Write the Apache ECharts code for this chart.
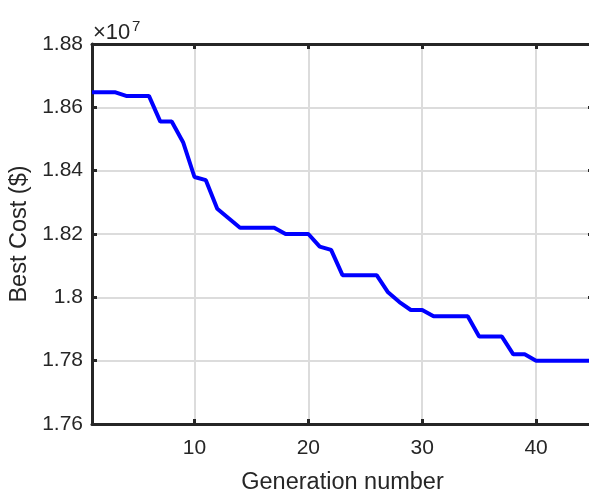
<!DOCTYPE html>
<html>
<head>
<meta charset="utf-8">
<script src="https://cdn.jsdelivr.net/npm/echarts@6/dist/echarts.min.js"></script>
<style>
  html, body { margin: 0; padding: 0; background: #fff; }
  #main { width: 589px; height: 491px; }
</style>
</head>
<body>
<div id="main"></div>
<script>
// generation index
const generations = [];
for (let g = 1; g <= 45; g++) generations.push(g);

// best cost per generation, in units of 1e7 $
const bestCost = [
  1.8648, 1.8648, 1.8648, 1.8636, 1.8636, 1.8636, 1.8555, 1.8555, 1.849, 1.838,
  1.837, 1.828, 1.825, 1.822, 1.822, 1.822, 1.822, 1.820, 1.820, 1.820,
  1.816, 1.815, 1.807, 1.807, 1.807, 1.807, 1.8016, 1.7985, 1.796, 1.796,
  1.794, 1.794, 1.794, 1.794, 1.7876, 1.7876, 1.7876, 1.782, 1.782, 1.780,
  1.780, 1.780, 1.780, 1.780, 1.780
];

const xTicks = [10, 20, 30, 40];

const axisDark = '#262626';
const gridGray = '#dcdcdc';
const font = 'Liberation Sans, Arial, sans-serif';

var myChart = echarts.init(document.querySelector("#main"));

var option = {
  animation: false,
  grid: { left: 92, width: 501, top: 44, height: 380, containLabel: false, outerBoundsMode: 'none' },
  graphic: [{
    type: 'text',
    x: 93, y: 44,
    style: { text: '×10', fontSize: 22, fontFamily: font, fill: axisDark, verticalAlign: 'bottom' }
  }, {
    type: 'text',
    x: 132, y: 19,
    style: { text: '7', fontSize: 15, fontFamily: font, fill: axisDark, verticalAlign: 'top' }
  }],
  xAxis: [{
    type: 'value',
    min: 1, max: 45,
    name: 'Generation number',
    nameLocation: 'middle',
    nameGap: 47,
    nameTextStyle: { fontSize: 23.5, fontFamily: font, color: axisDark },
    axisLine: { lineStyle: { color: axisDark, width: 3 } },
    axisTick: { inside: true, length: 5, customValues: xTicks, lineStyle: { color: axisDark, width: 3 } },
    axisLabel: { customValues: xTicks, fontSize: 21, fontFamily: font, color: axisDark, margin: 14 },
    splitLine: { show: true, lineStyle: { color: gridGray, width: 2 } }
  }, {
    type: 'value',
    position: 'top',
    min: 1, max: 45,
    axisLine: { lineStyle: { color: axisDark, width: 3 } },
    axisTick: { inside: true, length: 5, customValues: xTicks, lineStyle: { color: axisDark, width: 3 } },
    axisLabel: { show: false },
    splitLine: { show: false }
  }],
  yAxis: [{
    type: 'value',
    min: 1.76, max: 1.88, interval: 0.02,
    name: 'Best Cost ($)',
    nameLocation: 'middle',
    nameGap: 50,
    nameTextStyle: { fontSize: 23.5, fontFamily: font, color: axisDark },
    axisLine: { show: true, lineStyle: { color: axisDark, width: 3 } },
    axisTick: { show: true, inside: true, length: 5, lineStyle: { color: axisDark, width: 3 } },
    axisLabel: { fontSize: 21, fontFamily: font, color: axisDark, margin: 9,
      formatter: v => String(+v.toFixed(2)) },
    splitLine: { show: true, lineStyle: { color: gridGray, width: 2 } }
  }, {
    type: 'value',
    position: 'right',
    min: 1.76, max: 1.88, interval: 0.02,
    axisLine: { show: true, lineStyle: { color: axisDark, width: 3 } },
    axisTick: { show: true, inside: true, length: 5, lineStyle: { color: axisDark, width: 3 } },
    axisLabel: { show: false },
    splitLine: { show: false }
  }],
  series: [{
    type: 'line',
    data: generations.map((g, i) => [g, bestCost[i]]),
    showSymbol: false,
    lineStyle: { color: '#0000ff', width: 4 },
    z: 5
  }]
};

myChart.setOption(option);
</script>
</body>
</html>
